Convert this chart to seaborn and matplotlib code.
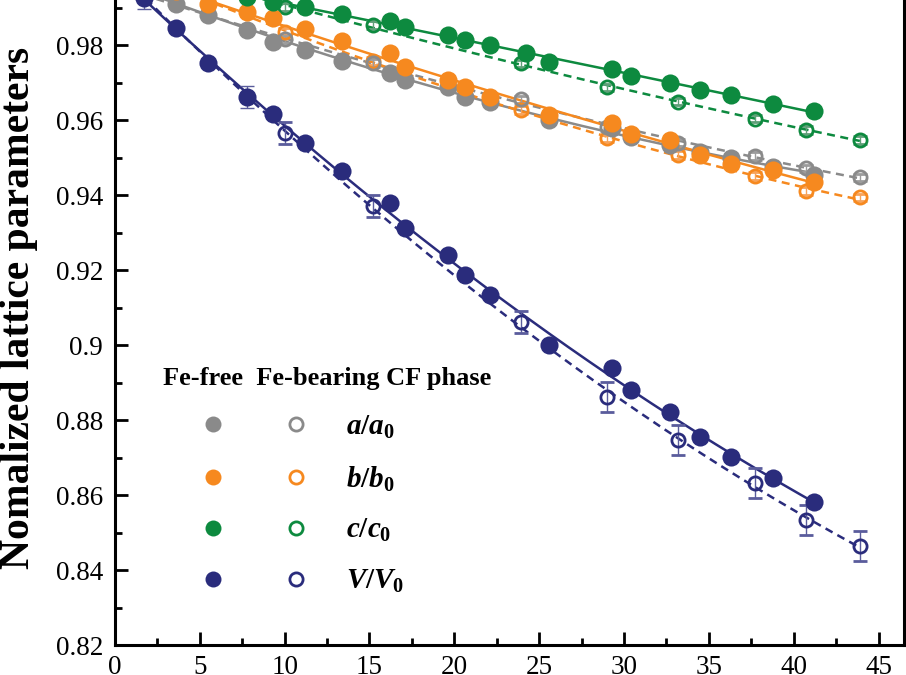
"""
Normalized lattice parameters of the CF phase vs pressure
(Fe-free vs Fe-bearing), Origin-style figure.
"""
import numpy as np
import matplotlib
matplotlib.use("Agg")
import matplotlib.pyplot as plt
import seaborn as sns
from matplotlib.lines import Line2D
from matplotlib.legend_handler import HandlerTuple
from matplotlib.ticker import MultipleLocator, FuncFormatter

# Setup
sns.set_style("ticks")
plt.rcParams["font.family"] = ["Liberation Serif", "DejaVu Serif"]
plt.rcParams["text.color"] = "black"
plt.rcParams["axes.labelcolor"] = "black"
plt.rcParams["mathtext.fontset"] = "custom"
plt.rcParams["mathtext.it"] = "Liberation Serif:bold:italic"
plt.rcParams["mathtext.rm"] = "Liberation Serif:bold"
plt.rcParams["mathtext.bf"] = "Liberation Serif:bold"

# Fe-free CF phase (filled symbols)
p_free = [1.7, 3.6, 5.5, 7.8, 9.3, 11.2, 13.4, 16.2, 17.1, 19.6,
          20.6, 22.1, 25.6, 29.3, 30.4, 32.7, 34.5, 36.3, 38.8, 41.2]
a_free = [0.9955, 0.9909, 0.9880, 0.9840, 0.9809, 0.9787, 0.9758, 0.9726, 0.9708, 0.9687,
          0.9662, 0.9647, 0.9600, 0.9578, 0.9555, 0.9533, 0.9515, 0.9500, 0.9475, 0.9453]
b_free = [0.9970, 0.9945, 0.9910, 0.9887, 0.9871, 0.9844, 0.9812, 0.9778, 0.9742, 0.9708,
          0.9687, 0.9662, 0.9613, 0.9593, 0.9564, 0.9547, 0.9507, 0.9484, 0.9467, 0.9436]
V_free = [0.9925, 0.9845, 0.9753, 0.9662, 0.9615, 0.9540, 0.9464, 0.9380, 0.9311, 0.9240,
          0.9188, 0.9133, 0.9000, 0.8938, 0.8880, 0.8822, 0.8756, 0.8702, 0.8646, 0.8582]
V_free_err = [0.003, 0, 0, 0.003, 0, 0, 0, 0, 0, 0,
              0, 0, 0, 0, 0, 0, 0, 0, 0, 0]
# c has one extra point at 24.2 GPa
p_free_c = [1.7, 3.6, 5.5, 7.8, 9.3, 11.2, 13.4, 16.2, 17.1, 19.6, 20.6,
            22.1, 24.2, 25.6, 29.3, 30.4, 32.7, 34.5, 36.3, 38.8, 41.2]
c_free = [0.9985, 0.9970, 0.9950, 0.9928, 0.9916, 0.9901, 0.9882, 0.9864, 0.9849, 0.9827, 0.9813,
          0.9800, 0.9779, 0.9756, 0.9735, 0.9717, 0.9700, 0.9680, 0.9667, 0.9644, 0.9625]

# Fe-bearing CF phase (open symbols)
p_bear = [10.0, 15.2, 23.9, 29.0, 33.2, 37.7, 40.7, 43.9]
a_bear = [0.9815, 0.9752, 0.9655, 0.9582, 0.9540, 0.9504, 0.9471, 0.9447]
b_bear = [0.9836, 0.9757, 0.9627, 0.9551, 0.9507, 0.9451, 0.9411, 0.9394]
c_bear = [0.9902, 0.9853, 0.9751, 0.9687, 0.9649, 0.9604, 0.9573, 0.9547]
V_bear = [0.9566, 0.9371, 0.9062, 0.8862, 0.8748, 0.8633, 0.8533, 0.8464]
abc_bear_err = [0.001, 0.001, 0.001, 0.001, 0.001, 0.001, 0.001, 0.001]
V_bear_err = [0.003, 0.003, 0.003, 0.004, 0.004, 0.004, 0.004, 0.004]

COLORS = {"a": "#8a8a8a", "b": "#f6891f", "c": "#0d8a3f", "V": "#2a2c7c"}
ERR_COLORS = {"a": "#9c9c9c", "b": "#f7a35a", "c": "#5f9f78", "V": "#5a5c9c"}
LABELS = {"a": r"$a/a_0$", "b": r"$b/b_0$", "c": r"$c/c_0$", "V": r"$V/V_0$"}

free = {"a": (p_free, a_free), "b": (p_free, b_free),
        "c": (p_free_c, c_free), "V": (p_free, V_free)}
bear = {"a": (p_bear, a_bear), "b": (p_bear, b_bear),
        "c": (p_bear, c_bear), "V": (p_bear, V_bear)}
bear_err = {"a": abc_bear_err, "b": abc_bear_err, "c": abc_bear_err, "V": V_bear_err}

fig = plt.figure(figsize=(9.06, 6.75), dpi=100)
ax = fig.add_axes([0.1269, 0.0444, 0.8709, 1.0])

# Quadratic fits (solid: Fe-free, dashed: Fe-bearing)
for key in ["a", "b", "c", "V"]:
    x, y = np.array(free[key][0]), np.array(free[key][1])
    xs = np.linspace(0, x.max(), 200)
    ax.plot(xs, np.polyval(np.polyfit(x, y, 2), xs), color=COLORS[key], lw=1.8, zorder=2)
    x, y = np.array(bear[key][0]), np.array(bear[key][1])
    xs = np.linspace(0, x.max(), 200)
    ax.plot(xs, np.polyval(np.polyfit(x, y, 2), xs), color=COLORS[key], lw=1.8,
            ls=(0, (3.2, 2.2)), zorder=2)

# Fe-bearing open symbols with error bars
for key in ["b", "a", "c", "V"]:
    x, y = bear[key]
    ax.errorbar(x, y, yerr=bear_err[key], fmt="o", ms=9.5, mfc="none", mec=COLORS[key], mew=2,
                ecolor=ERR_COLORS[key], elinewidth=1, capsize=5, capthick=1, zorder=3)

# Fe-free filled symbols
ax.errorbar(p_free, V_free, yerr=V_free_err, fmt="none", ecolor=ERR_COLORS["V"],
            elinewidth=1, capsize=5, capthick=1, zorder=3)
for key in ["a", "b", "c", "V"]:
    x, y = free[key]
    sns.scatterplot(x=x, y=y, ax=ax, s=170, color=COLORS[key], linewidth=0, zorder=4)

ax.set_xlim(0, 46.5)
ax.set_ylim(0.82, 1.0)
ax.xaxis.set_major_locator(MultipleLocator(5))
ax.xaxis.set_minor_locator(MultipleLocator(2.5))
ax.yaxis.set_major_locator(MultipleLocator(0.02))
ax.yaxis.set_minor_locator(MultipleLocator(0.01))
ax.yaxis.set_major_formatter(FuncFormatter(lambda v, _: f"{v:g}"))
ax.tick_params(which="both", direction="in", width=2, colors="black", labelsize=19.5)
ax.tick_params(which="major", length=9.5)
ax.tick_params(which="minor", length=5)
ax.tick_params(axis="x", pad=7)
ax.tick_params(axis="y", pad=8.5)
for side in ["left", "bottom", "right"]:
    ax.spines[side].set_linewidth(2.2)
    ax.spines[side].set_color("black")
ax.spines["top"].set_visible(False)

ax.set_ylabel("Nomalized lattice parameters", fontsize=30, fontweight="bold", color="black")
ax.yaxis.set_label_coords(-0.0976, 0.5)

# Legend: filled (Fe-free) and open (Fe-bearing) side by side
handles = []
for key in ["a", "b", "c", "V"]:
    filled = Line2D([], [], ls="none", marker="o", ms=11.5, mfc=COLORS[key], mec=COLORS[key], mew=0)
    hollow = Line2D([], [], ls="none", marker="o", ms=9.5, mfc="none", mec=COLORS[key], mew=2)
    handles.append((filled, hollow))
fs = 21 * 100 / 72.0
leg = ax.legend(handles, [LABELS[k] for k in ["a", "b", "c", "V"]],
                handler_map={tuple: HandlerTuple(ndivide=None, pad=-17 / fs)},
                title="Fe-free  Fe-bearing CF phase", alignment="left",
                title_fontproperties={"size": 19, "weight": "bold"},
                fontsize=21, handlelength=183 / fs, handletextpad=0.0, labelspacing=0.81,
                borderpad=0, borderaxespad=0, frameon=False, labelcolor="black",
                loc="upper left", bbox_to_anchor=(0.0608, 0.4119))
leg.get_title().set_color("black")

fig.savefig("out.png", dpi=100)
plt.close(fig)
